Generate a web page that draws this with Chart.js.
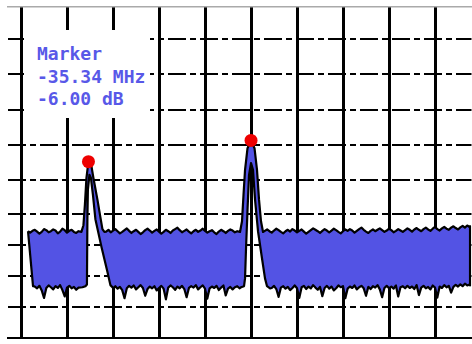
<!DOCTYPE html>
<html>
<head>
  <title>Spectrum marker</title>
  <script src="https://cdn.jsdelivr.net/npm/chart.js"></script>
  <style>
    body { margin: 0; background: #fff; overflow: hidden; }
    .wrap { position: relative; width: 472px; height: 344px; overflow: hidden; }
    .marker-box { position: absolute; left: 24px; top: 30px; width: 126px; height: 88px; box-sizing: border-box; padding: 13px 0 0 13px; background: #fff; font-family: "DejaVu Sans Mono", monospace; font-size: 18px; font-weight: bold; line-height: 22.5px; color: #5858e8; white-space: pre; }
  </style>
</head>
<body>
  <div class="wrap">
    <canvas id="spectrum" width="478" height="344"></canvas>
    <div class="marker-box">Marker
-35.34 MHz
-6.00 dB</div>
  </div>

  <script>
    // Frequency offset in MHz, level in dB
    const xTicks = [-50, -40, -30, -20, -10, 0, 10, 20, 30, 40];
    const yTicks = [30, 20, 10, 0, -9.7, -19.4, -28.1, -36.7, -45.6];

    // noise floor envelope, one value every 0.5 MHz from -48 (null = hidden under a peak)
    const noiseStart = -48, noiseStep = 0.5;
    const noiseTop = [
      -24.6, -24.1, -23.8, -24.3, -24.9, -24.4, -23.6, -23.9, -24.5, -24.2,
      -23.7, -24.0, -24.8, -24.3, -23.5, -23.9, -24.6, -24.1, -23.8, -24.4,
      -24.7, -24.2,
      null, null, null, null, null, null, null, null, null, null, null,
      -24.3, -23.8, -24.5, -24.0, -23.6, -24.2, -24.8, -24.4, -23.9, -23.4,
      -24.1, -24.7, -24.2, -23.8, -24.4, -25.0, -24.5, -23.9, -23.5, -24.0,
      -24.6, -24.1, -23.7, -24.3, -24.9, -24.4, -23.8, -24.2, -24.7, -24.0,
      -23.6, -23.2, -23.9, -24.5, -24.1, -23.7, -24.3, -24.8, -24.2, -23.8,
      -24.4, -24.0, -23.5, -24.1, -24.6, -24.2, -23.9, -24.5, -25.0, -24.3,
      -23.8, -24.2, -24.7, -24.1, -23.7, -24.0, -24.5, -24.2,
      null, null, null, null, null, null, null, null, null, null, null,
      -24.1, -23.7, -24.2, -24.6, -24.0, -23.5, -23.9, -24.4, -24.8, -24.2,
      -23.8, -24.3, -23.6, -24.0, -24.5, -24.1, -23.7, -24.3, -24.9, -24.4,
      -23.9, -23.4, -23.8, -24.2, -24.7, -24.1, -23.6, -24.0, -24.5, -24.0,
      -23.5, -23.9, -24.4, -24.8, -24.2, -23.7, -24.1, -23.6, -24.0, -24.6,
      -24.1, -23.6, -23.2, -23.8, -24.3, -24.7, -24.1, -23.7, -24.2, -23.8,
      -23.4, -23.9, -24.4, -24.0, -23.5, -23.9, -24.5, -24.1, -23.6, -24.0,
      -24.4, -23.9, -23.4, -23.8, -24.3, -23.7, -23.3, -23.8, -24.2, -23.6,
      -23.2, -23.7, -24.1, -23.5, -23.0, -23.6, -24.0, -23.4, -23.0, -23.5,
      -23.8, -23.2, -22.8, -23.3, -23.7, -23.1, -22.7, -23.2, -22.6, -23.0
    ];
    const noiseBottom = [
      null, null,
      -39.8, -40.3, -39.6, -40.9, -43.0, -40.2, -39.5, -40.0,
      -40.6, -39.7, -40.2, -39.4, -40.8, -42.6, -40.1, -39.6, -40.3, -39.9,
      -40.7, -40.1,
      null, null, null, null, null, null, null, null, null, null, null, null, null, null, null,
      -39.7, -40.4, -39.9, -40.8, -43.1, -40.3, -39.6, -40.1, -39.5, -40.6,
      -40.0, -39.4, -40.2, -42.4, -40.5, -39.8, -40.3, -39.7, -40.9, -40.2,
      -39.6, -40.4, -43.4, -40.1, -39.5, -40.0, -40.7, -39.8, -40.3, -39.6,
      -40.5, -42.8, -40.2, -39.7, -40.1, -39.4, -40.6, -40.0, -39.5, -40.4,
      -43.2, -40.3, -39.8, -40.2, -39.6, -40.8, -40.1, -39.5, -42.3, -40.4,
      -39.9, -40.6, -40.0, -39.7, -40.3,
      null, null, null, null, null, null, null, null, null, null, null, null, null,
      -40.2, -39.6, -40.5, -42.7, -40.1, -39.7, -40.4, -39.9, -40.8, -40.2,
      -39.5, -40.3, -43.0, -40.0, -39.6, -40.5, -39.8, -40.3, -39.4, -40.1,
      -40.7, -39.9, -42.5, -40.2, -39.6, -40.4, -39.8, -40.9, -40.3, -39.5,
      -40.0, -39.7, -43.1, -40.4, -39.8, -40.2, -39.5, -40.6, -40.0, -39.6,
      -40.3, -42.4, -39.9, -40.5, -39.7, -40.1, -39.4, -40.6, -42.8, -40.2,
      -39.6, -40.3, -39.8, -40.4, -39.5, -42.6, -40.0, -39.7, -40.3, -39.6,
      -40.2, -39.8, -40.5, -39.4, -42.2, -40.1, -39.6, -40.3, -39.9, -40.6,
      -39.5, -40.1, -42.9, -39.8, -40.2, -39.4, -40.0, -39.6, -41.5, -39.9,
      -39.3, -39.8, -39.2, -39.7, -39.0, -39.5, -39.2
    ];

    // band edges
    const bandLeftTop = [-48.48, -24.2], bandLeftBottom = [-47.39, -39.7];
    const bandRightTop = [47.61, -22.8], bandRightBottom = [47.61, -39.5];

    // peak outlines: outer (top) and inner (bottom) edges
    const peak1TopX = [-36.87, -36.43, -36.11, -35.78, -35.34, -34.80, -34.26, -33.39, -32.74, -32.30, -31.87];
    const peak1TopY = [-24.4, -22.5, -16.7, -9.2, -4.6, -5.0, -9.2, -15.3, -20.3, -23.6, -24.4];
    const peak1BotX = [-36.65, -36.00, -35.67, -35.57, -35.46, -35.13, -34.80, -34.37, -33.83, -32.52, -31.22, -30.57, -29.91];
    const peak1BotY = [-40.0, -39.7, -39.2, -20.8, -12.5, -8.3, -9.2, -13.9, -20.8, -28.6, -35.6, -39.4, -40.3];
    const peak2TopX = [-2.39, -1.96, -1.63, -1.30, -0.76, 0, 0.76, 1.30, 1.74, 2.17, 2.61];
    const peak2TopY = [-24.4, -21.4, -13.9, -6.9, -0.8, 1.4, -0.8, -6.9, -15.3, -21.4, -24.4];
    const peak2BotX = [-2.17, -1.52, -1.30, -1.09, -0.76, -0.43, 0, 0.43, 0.87, 1.52, 2.39, 3.04, 3.48, 4.13];
    const peak2BotY = [-40.0, -39.7, -37.5, -29.2, -18.1, -8.3, -5.0, -6.9, -15.3, -24.2, -31.9, -37.5, -39.7, -40.3];

    // markers
    const markerX = [-35.34, 0];
    const markerY = [-4.6, 1.4];

    const pts = (xs, ys) => xs.map((x, i) => ({ x, y: ys[i] }));
    const noisePts = arr => arr.map((y, i) => ({ x: noiseStart + i * noiseStep, y })).filter(p => p.y !== null);

    const upperEdge = [{ x: bandLeftTop[0], y: bandLeftTop[1] }]
      .concat(noisePts(noiseTop), pts(peak1TopX, peak1TopY), pts(peak2TopX, peak2TopY))
      .concat([{ x: bandRightTop[0], y: bandRightTop[1] }])
      .sort((a, b) => a.x - b.x);
    const lowerEdge = [{ x: bandLeftBottom[0], y: bandLeftBottom[1] }]
      .concat(noisePts(noiseBottom), pts(peak1BotX, peak1BotY), pts(peak2BotX, peak2BotY))
      .concat([{ x: bandRightBottom[0], y: bandRightBottom[1] }])
      .sort((a, b) => a.x - b.x);
    // trace the band outline as one closed shape
    const outline = upperEdge.concat(lowerEdge.reverse(), [upperEdge[0]]);

    new Chart(document.getElementById('spectrum'), {
      type: 'line',
      data: {
        datasets: [
          { type: 'scatter', data: pts(markerX, markerY), pointRadius: 6.5, pointBackgroundColor: '#ee0000', pointBorderWidth: 0, order: 0 },
          { data: outline, borderColor: '#000', borderWidth: 2.2, borderJoinStyle: 'round', backgroundColor: '#5353e4', fill: 'shape', pointRadius: 0, tension: 0, order: 1 }
        ]
      },
      options: {
        responsive: false,
        animation: false,
        layout: { padding: { left: 8, right: 0, top: 1.5, bottom: 1.5 } },
        plugins: { legend: { display: false }, tooltip: { enabled: false } },
        scales: {
          x: {
            type: 'linear', min: -52.83, max: 47.93,
            afterBuildTicks: axis => { axis.ticks = xTicks.map(v => ({ value: v })); },
            ticks: { display: false },
            grid: { color: '#000', lineWidth: 3, drawTicks: false },
            border: { display: true, color: '#000', width: 2 }
          },
          xTop: {
            type: 'linear', position: 'top', min: -52.83, max: 47.93,
            ticks: { display: false },
            grid: { display: false, drawTicks: false },
            border: { display: true, color: '#aaa', width: 1.5 }
          },
          y: {
            type: 'linear', min: -54.17, max: 39.17,
            afterBuildTicks: axis => { axis.ticks = yTicks.map(v => ({ value: v })); },
            ticks: { display: false },
            grid: { color: '#000', lineWidth: 2, drawTicks: false },
            border: { display: false, dash: [18, 4, 6, 4] }
          }
        }
      }
    });
  </script>
</body>
</html>
